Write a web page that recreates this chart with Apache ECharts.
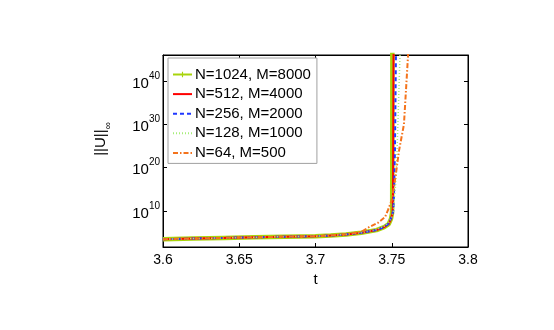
<!DOCTYPE html>
<html>
<head>
<meta charset="utf-8">
<script src="https://cdn.jsdelivr.net/npm/echarts@6/dist/echarts.min.js"></script>
<style>
  html, body { margin: 0; padding: 0; background: #fff; }
  #chart { width: 554px; height: 330px; }
</style>
</head>
<body>
<div id="chart"></div>
<script>
// data: t and log10(||U||_inf)
const seriesNames = ['N=1024, M=8000', 'N=512, M=4000', 'N=256, M=2000', 'N=128, M=1000', 'N=64, M=500']

const tN1024 = [3.6, 3.62, 3.64, 3.66, 3.68, 3.7, 3.71, 3.72, 3.73, 3.74, 3.745, 3.748, 3.7495, 3.7502, 3.7503, 3.7504]
const uN1024 = [3.5, 3.65, 3.8, 3.95, 4.08, 4.2, 4.35, 4.6, 5.0, 5.6, 6.3, 7.0, 8.2, 9.5, 12, 48]

const tN512 = [3.6, 3.62, 3.64, 3.66, 3.68, 3.7, 3.71, 3.72, 3.73, 3.74, 3.745, 3.748, 3.7495, 3.7505, 3.7508, 3.7512]
const uN512 = [3.5, 3.65, 3.8, 3.95, 4.08, 4.2, 4.35, 4.6, 5.0, 5.6, 6.3, 7.0, 8.2, 9.5, 12, 48]

const tN256 = [3.6, 3.62, 3.64, 3.66, 3.68, 3.7, 3.71, 3.72, 3.73, 3.74, 3.745, 3.748, 3.7495, 3.751, 3.7515, 3.7521, 3.7528]
const uN256 = [3.5, 3.65, 3.8, 3.95, 4.08, 4.2, 4.35, 4.6, 5.0, 5.6, 6.3, 7.1, 8.3, 10, 14, 24, 48]

const tN128 = [3.6, 3.62, 3.64, 3.66, 3.68, 3.7, 3.71, 3.72, 3.73, 3.74, 3.745, 3.748, 3.75, 3.751, 3.7525, 3.7535, 3.7554, 3.7556]
const uN128 = [3.5, 3.65, 3.8, 3.95, 4.08, 4.2, 4.35, 4.6, 5.0, 5.7, 6.5, 7.3, 8.6, 10, 16, 24, 46, 48]

const tN64 = [3.6, 3.62, 3.64, 3.66, 3.68, 3.7, 3.71, 3.72, 3.73, 3.7357, 3.741, 3.7456, 3.7475, 3.75, 3.7525, 3.7548, 3.758, 3.7607, 3.7609]
const uN64 = [3.5, 3.65, 3.8, 3.95, 4.08, 4.2, 4.38, 4.65, 5.2, 6.4, 7.3, 8.6, 10.2, 12.5, 18, 24, 30, 46, 48]

const xTicks = [3.6, 3.65, 3.7, 3.75, 3.8]
const yTicks = [10, 20, 30, 40]

const zip = (ts, us) => ts.map((t, i) => [t, us[i]])

const chart = echarts.init(document.getElementById('chart'))

const font = 'Liberation Sans, Arial, Helvetica, sans-serif'
// plus marker, padded with two tiny dots so it draws small in the legend
const plusIcon = 'path://M4,0h2v4h4v2h-4v4h-2v-4h-4v-2h4z M-5,-5h0.01v0.01z M15,15h0.01v0.01z'

const legendData = seriesNames.map((name, i) => (
  i === 0
    ? { name, itemStyle: { opacity: 1 }, lineStyle: { width: 2 } }
    : { name }
))

const option = {
  animation: false,
  textStyle: { fontFamily: font },
  grid: {
    left: 163,
    right: 86,
    top: 55,
    bottom: 83,
    show: true,
    borderColor: '#000',
    borderWidth: 1,
    backgroundColor: '#fff'
  },
  legend: {
    left: 168,
    top: 58,
    orient: 'vertical',
    padding: [9, 6, 3, 4],
    itemGap: 4.6,
    itemWidth: 19,
    itemHeight: 14,
    backgroundColor: '#fff',
    borderColor: '#a0a0a0',
    borderWidth: 1,
    itemStyle: { opacity: 0 },
    textStyle: { fontSize: 15, color: '#000', fontFamily: font, padding: [0, 0, 0, -2] },
    data: legendData
  },
  xAxis: [
    {
      type: 'value',
      min: 3.6,
      max: 3.8,
      interval: 0.05,
      name: 't',
      nameLocation: 'middle',
      nameGap: 14,
      nameTextStyle: { fontSize: 15, color: '#000', fontFamily: font },
      axisLine: { lineStyle: { color: '#000' } },
      axisTick: { inside: true, length: 4, lineStyle: { color: '#000' } },
      axisLabel: {
        margin: 6,
        fontSize: 14,
        color: '#000',
        fontFamily: font,
        customValues: xTicks,
        formatter: v => String(+v.toFixed(2))
      },
      splitLine: { show: false }
    },
    {
      type: 'value',
      position: 'top',
      min: 3.6,
      max: 3.8,
      interval: 0.05,
      axisLine: { lineStyle: { color: '#000' } },
      axisTick: { inside: true, length: 4, lineStyle: { color: '#000' } },
      axisLabel: { show: false },
      splitLine: { show: false }
    }
  ],
  yAxis: [
    {
      type: 'value',
      min: 1.7,
      max: 46,
      name: '{n|||U||}{s|∞}',
      nameLocation: 'middle',
      nameGap: 50,
      nameRotate: 90,
      nameTextStyle: {
        color: '#000',
        padding: [0, 0, 0, 24],
        rich: {
          n: { fontSize: 15, fontFamily: font, color: '#000', verticalAlign: 'top', lineHeight: 20 },
          s: { fontSize: 10, fontFamily: font, color: '#000', verticalAlign: 'bottom', lineHeight: 20 }
        }
      },
      axisLine: { lineStyle: { color: '#000' } },
      axisTick: { inside: true, length: 4, customValues: yTicks, lineStyle: { color: '#000' } },
      axisLabel: {
        margin: 3,
        customValues: yTicks,
        formatter: v => '{b|10}{s|' + v + '}',
        rich: {
          b: { fontSize: 15, fontFamily: font, color: '#000', verticalAlign: 'bottom', lineHeight: 20 },
          s: { fontSize: 10, fontFamily: font, color: '#000', verticalAlign: 'top', lineHeight: 20 }
        }
      },
      splitLine: { show: false }
    },
    {
      type: 'value',
      position: 'right',
      min: 1.7,
      max: 46,
      axisLine: { lineStyle: { color: '#000' } },
      axisTick: { inside: true, length: 4, customValues: yTicks, lineStyle: { color: '#000' } },
      axisLabel: { show: false },
      splitLine: { show: false }
    }
  ],
  series: [
    {
      name: seriesNames[0],
      type: 'line',
      data: zip(tN1024, uN1024),
      symbol: plusIcon,
      symbolSize: 7,
      showSymbol: false,
      itemStyle: { color: '#a8d40c' },
      lineStyle: { color: '#a8d40c', width: 4.5 }
    },
    {
      name: seriesNames[1],
      type: 'line',
      data: zip(tN512, uN512),
      showSymbol: false,
      symbol: 'none',
      itemStyle: { color: '#ff0000' },
      lineStyle: { color: '#ff0000', width: 2 }
    },
    {
      name: seriesNames[2],
      type: 'line',
      data: zip(tN256, uN256),
      showSymbol: false,
      symbol: 'none',
      itemStyle: { color: '#2038ff' },
      lineStyle: { color: '#2038ff', width: 2, type: [4, 3] }
    },
    {
      name: seriesNames[3],
      type: 'line',
      data: zip(tN128, uN128),
      showSymbol: false,
      symbol: 'none',
      itemStyle: { color: '#a6ee78' },
      lineStyle: { color: '#a6ee78', width: 1.5, type: [1, 2] }
    },
    {
      name: seriesNames[4],
      type: 'line',
      data: zip(tN64, uN64),
      showSymbol: false,
      symbol: 'none',
      itemStyle: { color: '#f4731c' },
      lineStyle: { color: '#f4731c', width: 2, type: [5, 2, 1.5, 2] }
    }
  ]
}

chart.setOption(option)
</script>
</body>
</html>
